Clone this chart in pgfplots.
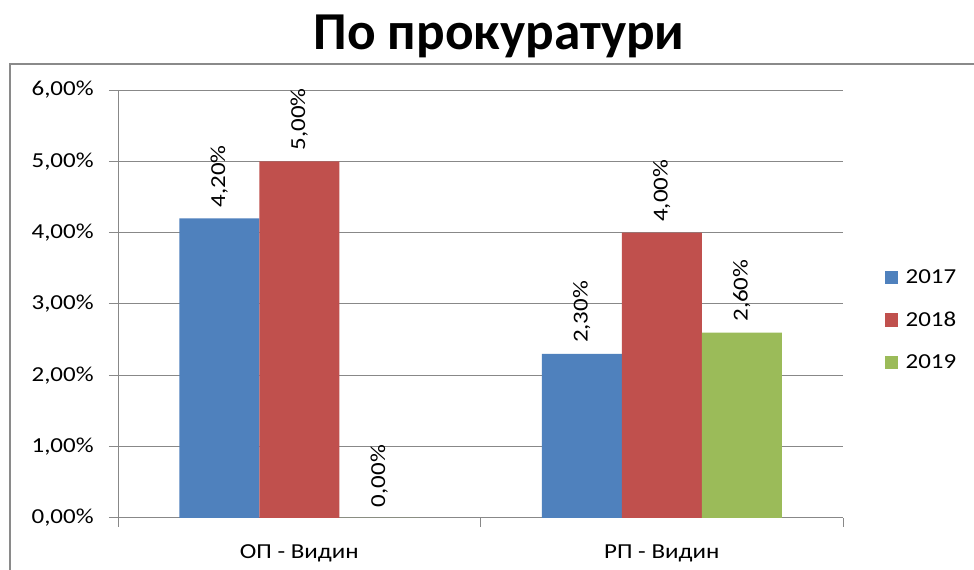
\documentclass[border=0pt]{standalone}
\usepackage{pgfplots}
\pgfplotsset{compat=1.18}
\usepackage{fontspec}
\setmainfont{Carlito}[FakeStretch=1.17]
\newfontfamily\titlefont{Carlito}
\definecolor{c17}{HTML}{4F81BD}
\definecolor{c18}{HTML}{C0504D}
\definecolor{c19}{HTML}{9BBB59}
\definecolor{gline}{HTML}{888888}
\definecolor{frame}{HTML}{8A8A8A}
\begin{document}
\begin{tikzpicture}[x=0.75pt,y=0.75pt]
\useasboundingbox (0,0) rectangle (974,570);
\fill[white] (0,0) rectangle (974,570);
\draw[frame, line width=1.6pt] (10,-20) -- (10,506) -- (1000,506);
\node[font=\titlefont\bfseries\fontsize{40}{48}\selectfont, anchor=base] at (499,520) {По прокуратури};
\begin{axis}[
  at={(88.5pt,39pt)}, anchor=south west,
  scale only axis,
  width=543.75pt, height=321pt,
  ybar=0pt, bar width=60pt,
  xmin=-0.5, xmax=1.5, ymin=0, ymax=6,
  enlargelimits=false,
  axis x line*=bottom, axis y line*=left,
  axis line style={gline, line width=0.75pt},
  xtick={0,1}, xticklabels={ОП - Видин, РП - Видин},
  minor xtick={-0.5,0.5,1.5},
  major x tick style={draw=none},
  minor tick length=6.75pt,
  ytick={0,1,2,3,4,5,6},
  major tick length=6.75pt,
  tick align=outside,
  tick style={gline, line width=0.75pt},
  ymajorgrids, grid style={gline, line width=0.75pt},
  /pgf/number format/assume math mode=true,
  yticklabel={\pgfmathprintnumber[fixed,fixed zerofill,precision=2,use comma]{\tick}\%},
  ticklabel style={font=\fontsize{16}{18}\selectfont, text=black},
  yticklabel style={anchor=east, xshift=-8pt},
  xticklabel style={yshift=-10pt},
  nodes near coords={\pgfmathprintnumber[fixed,fixed zerofill,precision=2,use comma]{\pgfplotspointmeta}\%},
  every node near coord/.append style={rotate=90, anchor=west, inner xsep=8pt, font=\fontsize{16}{18}\selectfont, text=black},
  legend style={at={(1,0.5)}, anchor=west, xshift=28pt, yshift=-12pt, draw=none, fill=none,
    font=\fontsize{16}{18}\selectfont, row sep=16pt,
    /tikz/every odd column/.append style={column sep=4pt}},
  legend image code/.code={\fill[#1] (0pt,-4.9pt) rectangle (9.8pt,4.9pt);},
  legend cell align=left,
]
\addplot[fill=c17, draw=none] coordinates {(0,4.2) (1,2.3)};
\addplot[fill=c18, draw=none] coordinates {(0,5.0) (1,4.0)};
\addplot[fill=c19, draw=none] coordinates {(0,0.0) (1,2.6)};
\legend{2017,2018,2019}
\end{axis}
\end{tikzpicture}
\end{document}
